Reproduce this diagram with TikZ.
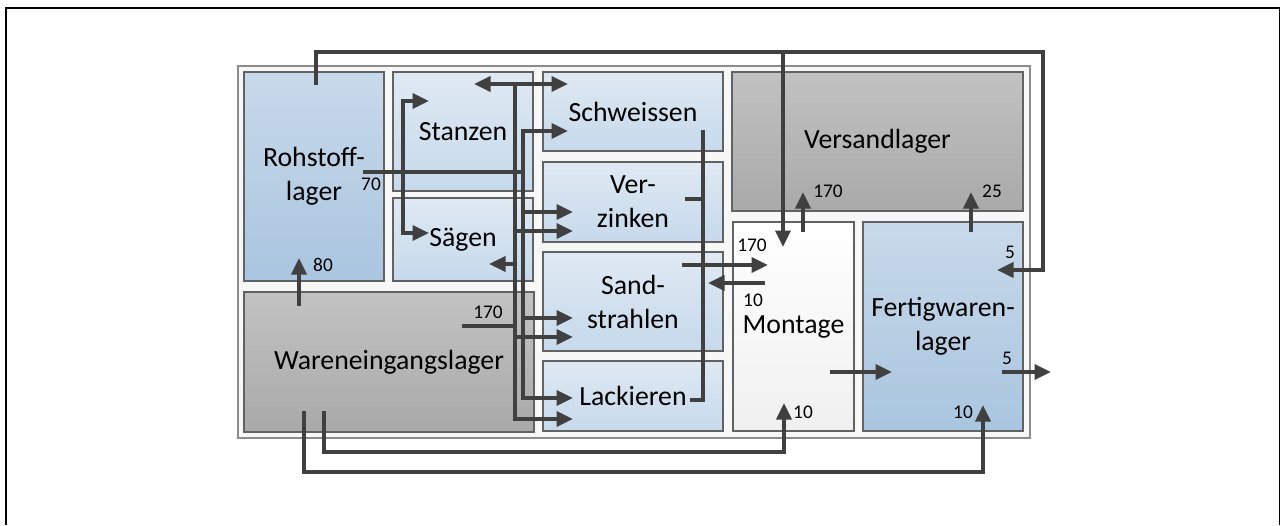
\documentclass[tikz,border=0pt]{standalone}
\usepackage{fontspec}
\setmainfont{Carlito}
\usetikzlibrary{arrows.meta}

\definecolor{flowgrey}{HTML}{404040}
\definecolor{boxline}{HTML}{626262}
\definecolor{bluetop}{HTML}{C8D9EA}
\definecolor{bluebot}{HTML}{A9C5DF}
\definecolor{paletop}{HTML}{DFE9F3}
\definecolor{palebot}{HTML}{C6D9EB}
\definecolor{greytop}{HTML}{C2C2C2}
\definecolor{greybot}{HTML}{A9A9A9}

\tikzset{
  box/.style={draw=boxline,line width=0.6pt,inner sep=0pt,align=center,font=\fontsize{15.8}{19.3}\selectfont},
  rawstore/.style={box,top color=bluetop,bottom color=bluebot},
  station/.style={box,top color=paletop,bottom color=palebot},
  store/.style={box,top color=greytop,bottom color=greybot},
  assembly/.style={box,top color=white,bottom color=black!6},
  feed/.style={draw=flowgrey,line width=2pt},
  flow/.style={feed,-{Triangle[length=0.33cm,width=0.30cm]}},
  twoway/.style={feed,{Triangle[length=0.33cm,width=0.30cm]}-{Triangle[length=0.33cm,width=0.30cm]}},
  qty/.style={font=\fontsize{11}{13}\selectfont,inner sep=0pt}
}

\begin{document}
\begin{tikzpicture}
\useasboundingbox (0,0) rectangle (25.62,-10.50);
\draw[black,line width=1.1pt] (0.124,-10.50) -- (0.124,-0.156) -- (25.590,-0.156) -- (25.590,-10.50);
\node[draw=black!45,line width=0.8pt,fill=black!3,minimum width=15.84cm,minimum height=7.44cm] (hall) at (12.680,-5.040) {};
\node[rawstore,minimum width=2.80cm,minimum height=4.18cm] (rohstoff) at (6.280,-3.530) {Rohstoff-\\lager};
\node[station,minimum width=2.80cm,minimum height=2.38cm] (stanzen) at (9.260,-2.630) {Stanzen};
\node[station,minimum width=2.80cm,minimum height=1.66cm] (saegen) at (9.260,-4.790) {Sägen};
\node[store,minimum width=5.80cm,minimum height=2.80cm] (wareneingang) at (7.780,-7.240) {Wareneingangslager};
\node[station,minimum width=3.60cm,minimum height=1.58cm] (schweissen) at (12.660,-2.230) {Schweissen};
\node[station,minimum width=3.60cm,minimum height=1.60cm] (verzinken) at (12.660,-4.040) {Ver-\\zinken};
\node[station,minimum width=3.60cm,minimum height=1.98cm] (sandstrahlen) at (12.660,-6.030) {Sand-\\strahlen};
\node[station,minimum width=3.60cm,minimum height=1.40cm] (lackieren) at (12.660,-7.920) {Lackieren};
\node[store,minimum width=5.82cm,minimum height=2.78cm] (versand) at (17.550,-2.830) {Versandlager};
\node[assembly,minimum width=2.42cm,minimum height=4.18cm] (montage) at (15.870,-6.530) {Montage};
\node[rawstore,minimum width=3.20cm,minimum height=4.18cm] (fertig) at (18.860,-6.530) {Fertigwaren-\\lager};

\coordinate (rohtop) at (6.320,-1.700);
\coordinate (loopcorner) at (20.860,-1.040);
\coordinate (fertin) at (19.940,-5.400);
\coordinate (montin) at (15.660,-4.940);
\coordinate (montout) at (16.060,-4.640);
\coordinate (versin1) at (16.060,-3.840);
\coordinate (fertout) at (19.420,-4.640);
\coordinate (versin2) at (19.420,-3.840);
\coordinate (montright) at (16.600,-7.440);
\coordinate (fertleft) at (17.840,-7.440);
\coordinate (fertright) at (20.040,-7.440);
\coordinate (exit) at (21.020,-7.440);
\coordinate (wareout1) at (6.480,-8.220);
\coordinate (rail1) at (6.480,-9.040);
\coordinate (montbot) at (15.680,-8.060);
\coordinate (wareout2) at (6.080,-8.220);
\coordinate (rail2) at (6.080,-9.440);
\coordinate (fertbot) at (19.660,-8.100);
\coordinate (wareup) at (5.980,-6.120);
\coordinate (rohbot) at (5.980,-5.160);
\coordinate (rohright) at (7.260,-3.440);
\coordinate (wareright) at (9.240,-6.520);
\coordinate (busA) at (10.300,-1.680);
\coordinate (busB) at (10.460,-2.620);
\coordinate (stanzin) at (9.480,-1.680);
\coordinate (schwin1) at (11.360,-1.680);
\coordinate (schwin2) at (11.360,-2.620);
\coordinate (verzin1) at (11.460,-4.240);
\coordinate (verzin2) at (11.460,-4.620);
\coordinate (saegin) at (9.780,-5.280);
\coordinate (sandin1) at (11.460,-6.360);
\coordinate (sandin2) at (11.460,-6.740);
\coordinate (lackin1) at (11.460,-7.960);
\coordinate (lackin2) at (11.460,-8.380);
\coordinate (schwout) at (14.060,-2.600);
\coordinate (lackout) at (13.800,-8.000);
\coordinate (verzout) at (13.700,-3.980);
\coordinate (sandout) at (13.640,-5.300);
\coordinate (montin2) at (15.360,-5.300);
\coordinate (montback) at (15.300,-5.660);
\coordinate (sandback) at (14.160,-5.660);
\coordinate (bracket) at (8.060,-2.020);
\coordinate (stanzin2) at (8.580,-2.020);
\coordinate (saegin2) at (8.580,-4.660);

\draw[flow] (rohtop) |- (loopcorner) |- (fertin);
\draw[flow] (montin |- loopcorner) -- (montin);
\draw[flow] (montout) -- (versin1);
\draw[flow] (fertout) -- (versin2);
\draw[flow] (montright) -- (fertleft);
\draw[flow] (fertright) -- (exit);
\draw[flow] (wareout1) -- (rail1) -| (montbot);
\draw[flow] (wareout2) -- (rail2) -| (fertbot);
\draw[flow] (wareup) -- (rohbot);
\draw[feed] (rohright) -- (busB |- rohright);
\draw[feed] (wareright) -- (busA |- wareright);
\draw[twoway] (stanzin) -- (schwin1);
\draw[flow] (busA) |- (lackin2);
\draw[twoway] (schwin2) -- (busB) |- (lackin1);
\draw[flow] (busB |- verzin1) -- (verzin1);
\draw[flow] (busA |- verzin2) -- (verzin2);
\draw[flow] (busA |- saegin) -- (saegin);
\draw[flow] (busB |- sandin1) -- (sandin1);
\draw[flow] (busA |- sandin2) -- (sandin2);
\draw[feed] (schwout) |- (lackout);
\draw[feed] (verzout) -- (schwout |- verzout);
\draw[flow] (sandout) -- (montin2);
\draw[flow] (montback) -- (sandback);
\draw[twoway] (stanzin2) -- (bracket) |- (saegin2);

\node[qty] (q70) at (7.420,-3.680) {70};
\node[qty] (q80) at (6.460,-5.300) {80};
\node[qty] (q170ware) at (9.760,-6.240) {170};
\node[qty] (q170mont) at (15.040,-4.900) {170};
\node[qty] (q10sand) at (15.060,-6.000) {10};
\node[qty] (q170vers) at (16.560,-3.820) {170};
\node[qty] (q25) at (19.840,-3.820) {25};
\node[qty] (q5in) at (20.200,-5.040) {5};
\node[qty] (q5out) at (20.140,-7.160) {5};
\node[qty] (q10mont) at (16.060,-8.240) {10};
\node[qty] (q10fert) at (19.260,-8.240) {10};
\end{tikzpicture}
\end{document}
